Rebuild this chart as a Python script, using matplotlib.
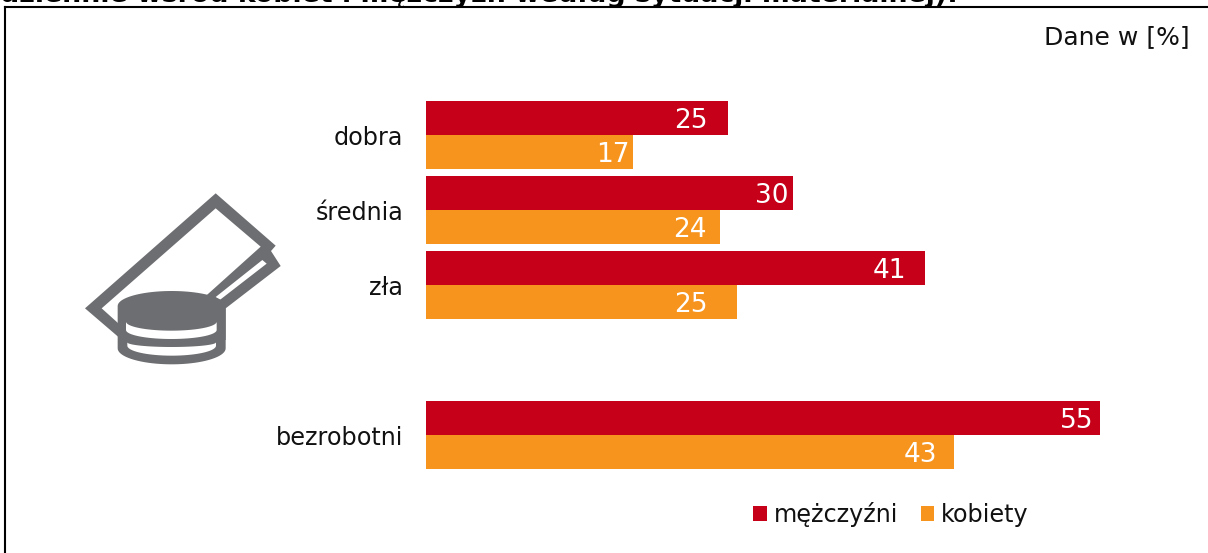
#!/usr/local/bin/python3
# -*- coding: utf-8 -*-

import numpy as np
from matplotlib import pyplot as plt
from matplotlib.lines import Line2D
from matplotlib.patches import Polygon

categories = ['dobra', 'średnia', 'zła', '', 'bezrobotni']
men = [24.7, 30.0, 40.8, np.nan, 55.1]
women = [16.9, 24.0, 25.4, np.nan, 43.2]
men_name = 'mężczyźni'
women_name = 'kobiety'
title_text = 'dziennie wśród kobiet i mężczyzn według sytuacji materialnej):'
unit_text = 'Dane w [%]'

# how far each value label sits from the end of its bar (px)
men_pad = [20, 4, 19, 0, 6]
women_pad = [3, 13, 29, 0, 17]

RED = '#C50018'
ORANGE = '#F7941E'
GRAY = '#6D6E71'
W, H = 1208, 553
PX_PER_UNIT = 12.23

plt.rcParams['font.family'] = ['DejaVu Sans']
fig = plt.figure(figsize=(W / 100, H / 100), dpi=100)

ax = fig.add_axes([426 / W, 1 - 472.8 / H, (W - 426) / W, 375.3 / H])
y = np.arange(len(categories))
bar_h = 0.451
bars_m = ax.barh(y - bar_h / 2, men, bar_h, color=RED, label=men_name)
bars_w = ax.barh(y + bar_h / 2, women, bar_h, color=ORANGE, label=women_name)
ax.set_xlim(0, (W - 426) / PX_PER_UNIT)
ax.set_ylim(4.5, -0.5)
ax.set_xticks([])
ax.set_yticks(y)
ax.set_yticklabels(categories, fontsize=17.2, color='#111111')
ax.tick_params(axis='y', length=0, pad=16.5)
for s in ax.spines.values():
    s.set_visible(False)

for values, pads, offset in [(men, men_pad, -bar_h / 2), (women, women_pad, bar_h / 2)]:
    for i in range(len(values)):
        if np.isnan(values[i]):
            continue
        ax.annotate('%.0f' % values[i], (values[i], i + offset), xytext=(-pads[i] * 0.72, -2),
                    textcoords='offset points', ha='right', va='center',
                    color='white', fontsize=19)

fig.legend(handles=[bars_m, bars_w], loc='lower left', bbox_to_anchor=(753 / W, 1 - 527 / H),
           ncol=2, frameon=False, fontsize=17.2, handlelength=0.58, handleheight=0.58,
           handletextpad=0.28, columnspacing=0.95, borderpad=0, borderaxespad=0,
           labelcolor='#111111')

# overlay in pixel coordinates for the frame, cut title, unit note and the icon
over = fig.add_axes([0, 0, 1, 1], zorder=5)
over.set_xlim(0, W)
over.set_ylim(H, 0)
over.axis('off')
over.patch.set_alpha(0)

fig.add_artist(Line2D([5 / W, 5 / W], [0, 1 - 7 / H], color='black', lw=1.5))
fig.add_artist(Line2D([5 / W, 1], [1 - 7 / H, 1 - 7 / H], color='black', lw=1.5))
over.text(958, 2.5, title_text, ha='right', va='baseline', fontsize=19.3, fontweight='bold', color='black')
over.text(1190, 37, unit_text, ha='right', va='center', fontsize=18, color='#111111')


def zoomed(points):
    pts = np.array(points, dtype=float)
    return np.column_stack([70 + pts[:, 0] / 3, 180 + pts[:, 1] / 3])


def arc(x0, x1, cy, ry, lower=True, n=40):
    t = np.linspace(0, np.pi, n)
    cx = (x0 + x1) / 2
    rx = (x1 - x0) / 2
    sign = 1 if lower else -1
    return np.column_stack([cx + rx * np.cos(t), cy + sign * ry * np.sin(t)])


def shape(points, color):
    over.add_patch(Polygon(zoomed(points), closed=True, facecolor=color, edgecolor='none'))


# banknotes
shape([(45, 385), (437, 40), (617, 197), (603, 213), (632, 258), (467, 385), (467, 480), (150, 475)], GRAY)
shape([(95, 385), (437, 85), (572, 200), (405, 350), (145, 430)], 'white')
shape([(577, 240), (590, 251), (448, 361), (437, 351)], 'white')

# coins
top = arc(143, 467, 378, 45, lower=False)
bottom = arc(143, 467, 505, 48, lower=True)
shape(np.vstack([top, bottom[::-1]]), GRAY)
band1 = np.vstack([arc(168, 440, 425, 27, lower=True)[::-1],
                   arc(168, 440, 450, 27, lower=True)])
shape(band1, 'white')
band2 = np.vstack([arc(172, 438, 487, 14, lower=True)[::-1],
                   arc(172, 438, 497, 30, lower=True)])
shape(band2, 'white')

plt.savefig('out.png', dpi=100)
